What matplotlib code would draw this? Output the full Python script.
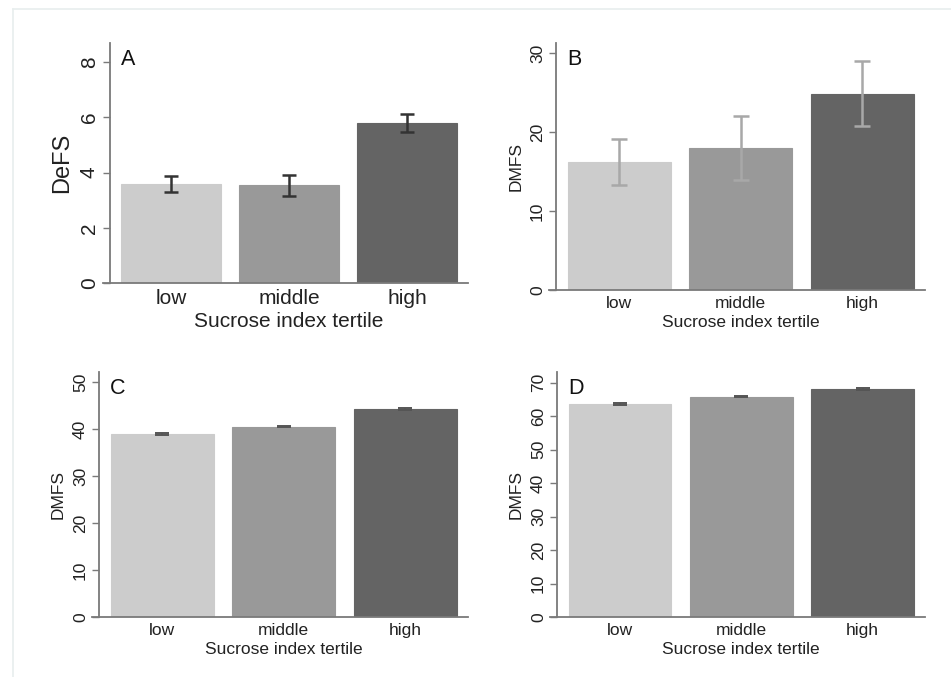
import matplotlib
matplotlib.use("Agg")
import matplotlib.pyplot as plt
from matplotlib.lines import Line2D

plt.rcParams['font.family'] = ['Liberation Sans', 'DejaVu Sans']

categories = ["low", "middle", "high"]
colors = ["#cccccc", "#999999", "#646464"]

a_values = [3.60, 3.54, 5.80]
a_err = [0.29, 0.38, 0.32]
b_values = [16.2, 18.0, 24.9]
b_err = [2.9, 4.05, 4.1]
c_values = [38.9, 40.5, 44.3]
c_err = [0.2, 0.2, 0.2]
d_values = [63.6, 65.8, 68.1]
d_err = [0.2, 0.2, 0.2]

W, H = 951, 677
fig = plt.figure(figsize=(W / 100, H / 100), dpi=100)
fig.patch.set_facecolor("white")

# faint frame lines on top and left
fig.add_artist(Line2D([13 / W, 13 / W], [0, 1 - 9 / H], transform=fig.transFigure, color="#e8eeee", lw=1.2))
fig.add_artist(Line2D([13 / W, 1], [1 - 9 / H, 1 - 9 / H], transform=fig.transFigure, color="#e8eeee", lw=1.2))


def make_axes(left, right, top, bottom):
    return fig.add_axes([left / W, 1 - bottom / H, (right - left) / W, (bottom - top) / H])


panels = [
    dict(box=(110, 468, 43, 283), vals=a_values, err=a_err, ymax=8.7, ticks=[0, 2, 4, 6, 8],
         ylabel="DeFS", letter="A", fs=15, lfs=17, ecol="#333333", ylab_x=62, cap=5, lw=1.8),
    dict(box=(556, 925, 43, 290), vals=b_values, err=b_err, ymax=31.3, ticks=[0, 10, 20, 30],
         ylabel="DMFS", letter="B", fs=12.5, lfs=12.5, ecol="#a8a8a8", ylab_x=516, cap=6, lw=1.8),
    dict(box=(99, 468, 372, 617), vals=c_values, err=c_err, ymax=52.1, ticks=[0, 10, 20, 30, 40, 50],
         ylabel="DMFS", letter="C", fs=12.5, lfs=12.5, ecol="#555555", ylab_x=58, cap=5, lw=1.4),
    dict(box=(557, 925, 372, 617), vals=d_values, err=d_err, ymax=73.2, ticks=[0, 10, 20, 30, 40, 50, 60, 70],
         ylabel="DMFS", letter="D", fs=12.5, lfs=12.5, ecol="#555555", ylab_x=516, cap=5, lw=1.4),
]

axis_col = "#7a7a7a"
text_col = "#222222"

for p in panels:
    ax = make_axes(*p["box"])
    x = list(range(len(categories)))
    ax.bar(x, p["vals"], width=0.847, color=colors, edgecolor=colors, linewidth=0.8, zorder=2)
    ax.errorbar(x, p["vals"], yerr=p["err"], fmt="none", ecolor=p["ecol"], elinewidth=p["lw"],
                capsize=p["cap"], capthick=p["lw"], zorder=3)
    ax.set_xlim(-0.52, 2.515)
    ax.set_ylim(0, p["ymax"])
    ax.set_yticks(p["ticks"])
    ax.set_yticklabels([str(t) for t in p["ticks"]], rotation=90, va="center",
                       fontsize=p["fs"], color=text_col)
    ax.set_xticks(x)
    ax.set_xticklabels(categories, fontsize=p["fs"], color=text_col)
    ax.tick_params(axis="x", length=0, pad=4)
    ax.tick_params(axis="y", length=5, width=1, color=axis_col, pad=3)
    for s in ["top", "right"]:
        ax.spines[s].set_visible(False)
    for s in ["left", "bottom"]:
        ax.spines[s].set_color(axis_col)
        ax.spines[s].set_linewidth(1.3)
    ax.spines["bottom"].set_bounds(-0.58, 2.515)
    ax.set_xlabel("Sucrose index tertile", fontsize=p["fs"], color=text_col, labelpad=3)
    ax.set_ylabel("")
    left, right, top, bottom = p["box"]
    fig.text(p["ylab_x"] / W, 1 - ((top + bottom) / 2) / H, p["ylabel"], rotation=90,
             ha="center", va="center", fontsize=p["lfs"], color=text_col)
    ax.text(0.03, 0.975, p["letter"], transform=ax.transAxes, ha="left", va="top",
            fontsize=15.5, color="#111111")
    ax.patch.set_alpha(0)
    ax.spines["bottom"].set_clip_on(False)

fig.savefig("out.png", dpi=100, facecolor="white")
